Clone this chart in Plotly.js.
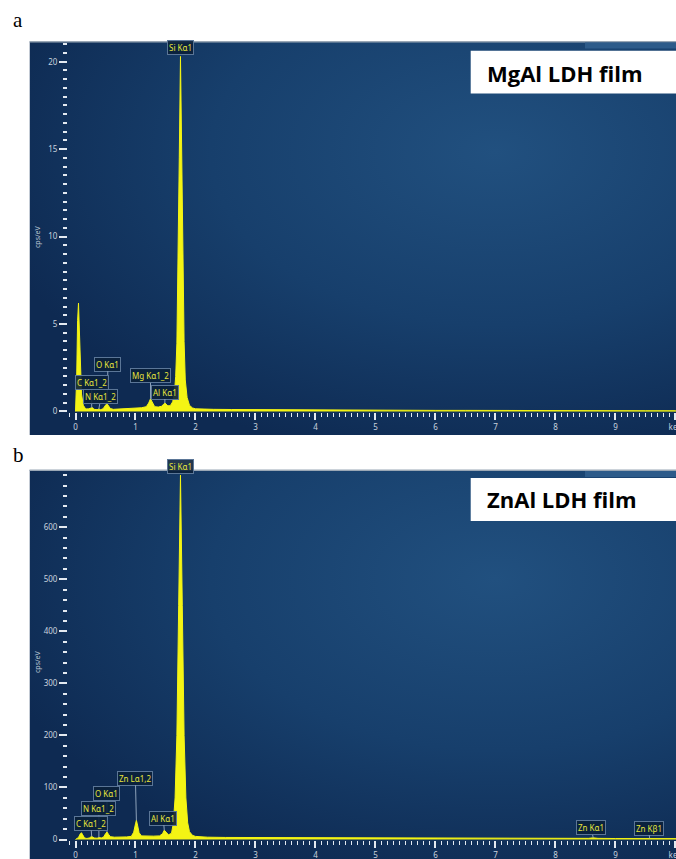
<!DOCTYPE html>
<html>
<head>
<meta charset="utf-8">
<script src="https://cdn.plot.ly/plotly-3.0.1.min.js"></script>
<style>html,body{margin:0;padding:0;background:#fff;}#chart{width:676px;height:859px;}</style>
</head>
<body>
<div id="chart"></div>
<script>
// ---------- DATA ----------
// Panel a: MgAl LDH film (cps/eV vs keV)
const energyA = [0.00,0.02,0.035,0.05,0.065,0.08,0.10,0.13,0.17,0.22,0.26,0.28,0.31,0.36,0.39,0.42,0.46,0.49,0.51,0.53,0.55,0.58,0.63,0.70,0.80,0.90,1.00,1.10,1.18,1.22,1.25,1.28,1.32,1.38,1.44,1.47,1.49,1.51,1.54,1.58,1.62,1.65,1.67,1.69,1.71,1.73,1.75,1.77,1.79,1.81,1.83,1.86,1.90,1.95,2.0,2.1,2.3,2.6,3.0,3.4,3.8,4.2,4.6,5.0,5.5,6.0,6.5,7.0,7.5,8.0,8.5,9.0,9.5,10.0,10.1];
const countsA = [0.0,2.0,5.2,6.2,4.6,2.4,1.0,0.35,0.14,0.15,0.22,0.22,0.12,0.10,0.14,0.10,0.15,0.30,0.40,0.42,0.34,0.17,0.12,0.13,0.15,0.17,0.19,0.21,0.27,0.48,0.72,0.50,0.27,0.25,0.30,0.42,0.48,0.42,0.32,0.33,0.55,1.1,2.0,3.9,8.2,14.5,20.3,15.0,8.5,4.0,1.8,0.8,0.35,0.2,0.15,0.13,0.12,0.11,0.10,0.09,0.09,0.08,0.08,0.07,0.07,0.06,0.06,0.05,0.05,0.05,0.04,0.04,0.04,0.04,0.04];

// Panel b: ZnAl LDH film (cps/eV vs keV)
const energyB = [0.00,0.05,0.08,0.10,0.12,0.15,0.19,0.23,0.27,0.31,0.36,0.39,0.43,0.47,0.50,0.525,0.55,0.58,0.65,0.75,0.85,0.93,0.97,1.00,1.015,1.03,1.06,1.10,1.20,1.30,1.40,1.45,1.48,1.51,1.55,1.60,1.63,1.66,1.69,1.72,1.75,1.78,1.81,1.84,1.87,1.90,1.95,2.0,2.2,2.5,3.0,3.5,4.0,5.0,6.0,7.0,8.0,8.55,8.63,8.71,9.0,9.5,9.57,9.65,10.0,10.1];
const countsB = [0,4,11,13,9,3,2,3,6,3,2.5,4,3,5,11,14.5,10,5.5,4.5,4.5,5,6,14,30,37,30,13,7,6.5,6.5,7,11,18,14,9,12,30,80,200,450,700,450,200,80,32,15,8,6,4.5,4,3.8,3.5,3.2,2.8,2.5,2.2,2.0,2.2,3.2,2.2,1.9,1.8,2.4,1.8,1.7,1.7];

// Axis ticks
const xTickVals = [0,1,2,3,4,5,6,7,8,9,10];
const xTickText = ['0','1','2','3','4','5','6','7','8','9','keV'];
const yTickValsA = [0,5,10,15,20];
const yTickValsB = [0,100,200,300,400,500,600];

// Peak labels: [text, energy (keV), height (cps/eV)]
const peaksA = [
  ['Si Kα1', 1.75, 20.3],
  ['O Kα1', 0.525, 0.42],
  ['C Kα1_2', 0.27, 0.22],
  ['N Kα1_2', 0.39, 0.14],
  ['Mg Kα1_2', 1.25, 0.72],
  ['Al Kα1', 1.49, 0.48]
];
const peaksB = [
  ['Si Kα1', 1.75, 700],
  ['Zn Lα1,2', 1.015, 37],
  ['O Kα1', 0.525, 14.5],
  ['N Kα1_2', 0.39, 4],
  ['C Kα1_2', 0.27, 6],
  ['Al Kα1', 1.48, 18],
  ['Zn Kα1', 8.63, 3.2],
  ['Zn Kβ1', 9.57, 2.4]
];
const filmA = 'MgAl LDH film';
const filmB = 'ZnAl LDH film';

// ---------- STYLE / LAYOUT ----------
const W = 676, H = 859;
const px = x => x / W;
const py = y => 1 - y / H;

// label box offsets (pixels) for leader lines, in same order as peaks
const offA = [[0,-8],[1,-40],[0,-25],[2,-12],[0,-23],[0,-11]];
const offB = [[0,-9],[-1,-42],[0,-38],[0,-29],[-1,-13],[-1,-12],[-2,-10],[-1,-10]];

const yellow = '#f4f414';
const labelFont = {family: 'Noto Sans', size: 8, color: '#e6e43c'};

function peakAnn(p, off, xa, ya) {
  return {
    x: p[1], y: p[2], xref: xa, yref: ya,
    text: p[0], font: labelFont,
    showarrow: true, arrowhead: 0, arrowwidth: 1, arrowcolor: '#8da2ba',
    ax: off[0], ay: off[1], standoff: 0,
    bgcolor: 'rgba(10,32,58,0.9)', bordercolor: '#5b7697', borderwidth: 1, borderpad: 1
  };
}

function gradSrc(w, h) {
  const svg = "<svg xmlns='http://www.w3.org/2000/svg' width='" + w + "' height='" + h + "'>" +
    "<defs><radialGradient id='g' cx='0.72' cy='0.28' r='0.8'>" +
    "<stop offset='0' stop-color='#21507f'/><stop offset='0.55' stop-color='#173f6c'/><stop offset='1' stop-color='#0e2a52'/>" +
    "</radialGradient></defs><rect width='" + w + "' height='" + h + "' fill='url(#g)'/></svg>";
  return 'data:image/svg+xml;base64,' + btoa(svg);
}

const tickFont = {family: 'Noto Sans', size: 8, color: '#c9d3df'};
const tickCol = '#e3e9f0';

function xaxisCfg(anchor) {
  return {
    domain: [px(68), 1], range: [-0.125, 10.01], anchor: anchor,
    tickmode: 'array', tickvals: xTickVals, ticktext: xTickText,
    ticks: 'outside', ticklen: 7, tickwidth: 2, tickcolor: tickCol,
    ticklabeloverflow: 'allow',
    minor: {tickmode: 'linear', tick0: 0, dtick: 0.1, ticks: 'outside', ticklen: 4, tickwidth: 1.8, tickcolor: tickCol, showgrid: false},
    tickfont: tickFont, showgrid: false, zeroline: false, showline: false, fixedrange: true
  };
}
function yaxisCfg(anchor, dom, rng, vals, minorD) {
  return {
    domain: dom, range: rng, anchor: anchor,
    tickmode: 'array', tickvals: vals,
    ticks: 'outside', ticklen: 8, tickwidth: 2, tickcolor: tickCol,
    minor: {tickmode: 'linear', tick0: 0, dtick: minorD, ticks: 'outside', ticklen: 4, tickwidth: 2, tickcolor: tickCol, showgrid: false},
    tickfont: tickFont, showgrid: false, zeroline: false, showline: false, fixedrange: true
  };
}

const traces = [
  {x: energyA, y: countsA, xaxis: 'x', yaxis: 'y', type: 'scatter', mode: 'lines',
   line: {color: yellow, width: 1}, fill: 'tozeroy', fillcolor: yellow, hoverinfo: 'skip'},
  {x: energyB, y: countsB, xaxis: 'x2', yaxis: 'y2', type: 'scatter', mode: 'lines',
   line: {color: yellow, width: 1}, fill: 'tozeroy', fillcolor: yellow, hoverinfo: 'skip'}
];

const annotations = [];
peaksA.forEach((p, i) => {
  if (i === 0) annotations.push(Object.assign(peakAnn(p, offA[i], 'x', 'y'), {showarrow: false, yanchor: 'bottom', yshift: 1}));
  else annotations.push(peakAnn(p, offA[i], 'x', 'y'));
});
peaksB.forEach((p, i) => {
  if (i === 0) annotations.push(Object.assign(peakAnn(p, offB[i], 'x2', 'y2'), {showarrow: false, yanchor: 'bottom', yshift: 1}));
  else annotations.push(peakAnn(p, offB[i], 'x2', 'y2'));
});
// film labels
annotations.push({xref: 'paper', yref: 'paper', x: px(485), y: py(73), xanchor: 'left', yanchor: 'middle',
  text: filmA, showarrow: false, font: {family: 'Open Sans', size: 22, color: '#000', weight: 'bold'}});
annotations.push({xref: 'paper', yref: 'paper', x: px(485), y: py(499), xanchor: 'left', yanchor: 'middle',
  text: filmB, showarrow: false, font: {family: 'Open Sans', size: 22, color: '#000', weight: 'bold'}});
// panel letters
annotations.push({xref: 'paper', yref: 'paper', x: px(11), y: py(20), xanchor: 'left', yanchor: 'middle',
  text: 'a', showarrow: false, font: {family: 'Liberation Serif', size: 21, color: '#000'}});
annotations.push({xref: 'paper', yref: 'paper', x: px(11), y: py(455), xanchor: 'left', yanchor: 'middle',
  text: 'b', showarrow: false, font: {family: 'Liberation Serif', size: 21, color: '#000'}});
// y-axis titles
annotations.push({xref: 'paper', yref: 'paper', x: px(37), y: py(237), xanchor: 'center', yanchor: 'middle',
  text: 'cps/eV', textangle: -90, showarrow: false, font: {family: 'Noto Sans', size: 7, color: '#b9c4d2'}});
annotations.push({xref: 'paper', yref: 'paper', x: px(37), y: py(662), xanchor: 'center', yanchor: 'middle',
  text: 'cps/eV', textangle: -90, showarrow: false, font: {family: 'Noto Sans', size: 7, color: '#b9c4d2'}});

const images = [
  {source: gradSrc(646, 394), xref: 'paper', yref: 'paper', x: px(29.5), y: py(41.5), sizex: px(676 - 29.5), sizey: 393.5 / H,
   xanchor: 'left', yanchor: 'top', sizing: 'stretch', layer: 'below'},
  {source: gradSrc(646, 389), xref: 'paper', yref: 'paper', x: px(29.5), y: py(470), sizex: px(676 - 29.5), sizey: 389 / H,
   xanchor: 'left', yanchor: 'top', sizing: 'stretch', layer: 'below'}
];

const shapes = [
  {type: 'line', xref: 'paper', yref: 'paper', x0: px(29.5), x1: 1, y0: py(41.8), y1: py(41.8), line: {color: '#9aa7b5', width: 1.5}, layer: 'below'},
  {type: 'line', xref: 'paper', yref: 'paper', x0: px(29.5), x1: 1, y0: py(470.3), y1: py(470.3), line: {color: '#9aa7b5', width: 1.5}, layer: 'below'},
  {type: 'rect', xref: 'paper', yref: 'paper', x0: px(585), x1: 1, y0: py(48.5), y1: py(42.6), fillcolor: '#2d5b8a', line: {width: 0}, layer: 'below'},
  {type: 'rect', xref: 'paper', yref: 'paper', x0: px(585), x1: 1, y0: py(477), y1: py(471), fillcolor: '#2d5b8a', line: {width: 0}, layer: 'below'},
  {type: 'rect', xref: 'paper', yref: 'paper', x0: px(470.7), x1: 1.01, y0: py(93.5), y1: py(50.7), fillcolor: '#ffffff', line: {width: 0}, layer: 'above'},
  {type: 'rect', xref: 'paper', yref: 'paper', x0: px(470.7), x1: 1.01, y0: py(521), y1: py(478), fillcolor: '#ffffff', line: {width: 0}, layer: 'above'}
];

const layout = {
  width: W, height: H,
  margin: {l: 0, r: 0, t: 0, b: 0},
  paper_bgcolor: '#ffffff', plot_bgcolor: 'rgba(0,0,0,0)',
  showlegend: false,
  xaxis: xaxisCfg('y'),
  yaxis: yaxisCfg('x', [py(412.3), py(43)], [-0.05, 21.07], yTickValsA, 0.5),
  xaxis2: xaxisCfg('y2'),
  yaxis2: yaxisCfg('x2', [py(840.3), py(471)], [-1.5, 708], yTickValsB, 20),
  annotations: annotations, images: images, shapes: shapes
};

Plotly.newPlot('chart', traces, layout, {staticPlot: true, displayModeBar: false});
</script>
</body>
</html>
